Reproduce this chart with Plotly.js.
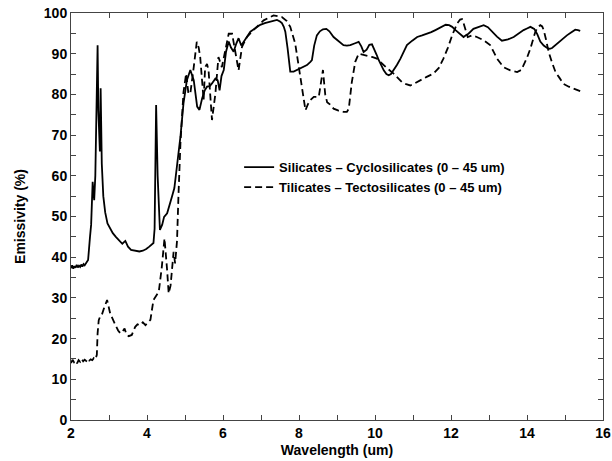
<!DOCTYPE html>
<html>
<head>
<meta charset="utf-8">
<script src="https://cdn.plot.ly/plotly-3.0.1.min.js"></script>
<style>html,body{margin:0;padding:0;background:#fff;}#chart{width:612px;height:461px;}</style>
</head>
<body>
<div id="chart"></div>
<script>
// Series 1: Silicates – Cyclosilicates
var silWavelength = [2.00,2.03,2.06,2.09,2.12,2.15,2.18,2.21,2.24,2.27,2.30,2.33,2.36,2.40,
  2.45,2.50,2.53,2.57,2.61,2.64,2.67,2.70,2.72,2.74,2.76,2.78,2.81,2.85,2.90,2.96,
  3.03,3.10,3.18,3.27,3.35,3.43,3.50,3.58,3.70,3.80,3.89,3.98,4.06,4.12,4.17,4.20,
  4.24,4.28,4.34,4.40,4.45,4.53,4.59,4.66,4.72,4.79,4.88,4.96,5.05,5.14,5.23,5.32,
  5.38,5.45,5.52,5.58,5.65,5.71,5.80,5.86,5.91,5.96,6.02,6.08,6.15,6.21,6.28,6.35,
  6.41,6.48,6.54,6.62,6.72,6.85,6.98,7.10,7.24,7.33,7.42,7.50,7.55,7.60,7.64,7.70,
  7.77,7.86,7.95,8.04,8.12,8.21,8.30,8.34,8.40,8.47,8.55,8.63,8.72,8.80,8.91,9.04,
  9.17,9.26,9.35,9.46,9.57,9.64,9.70,9.78,9.85,9.92,9.98,10.04,10.10,10.17,10.23,10.30,
  10.36,10.42,10.49,10.58,10.67,10.76,10.84,10.98,11.11,11.24,11.37,11.48,11.59,11.72,11.86,11.95,
  12.03,12.12,12.20,12.27,12.33,12.40,12.46,12.59,12.72,12.86,12.97,13.08,13.21,13.34,13.50,13.65,
  13.78,13.91,14.00,14.09,14.19,14.27,14.35,14.44,14.53,14.60,14.66,14.77,14.88,14.96,15.05,15.16,
  15.27,15.34,15.40];
var silEmissivity = [37.3,38.0,37.2,37.8,37.4,38.1,37.5,37.9,37.6,38.2,37.7,38.3,38.0,38.6,
  39.3,45.0,48.0,58.5,54.0,60.0,75.0,92.1,76.0,68.0,66.0,81.5,63.0,55.0,51.0,48.3,
  47.0,45.9,45.0,44.2,43.3,44.0,42.6,41.8,41.6,41.4,41.6,42.0,42.6,43.2,43.5,47.0,
  77.4,60.0,46.7,48.0,49.9,50.8,53.0,55.0,57.0,62.2,69.6,77.8,83.5,86.0,83.5,77.0,
  76.2,79.0,81.0,81.9,82.0,82.7,83.9,83.5,81.0,84.5,86.0,90.5,93.0,91.5,90.5,92.5,
  93.8,92.0,93.0,94.0,95.4,96.3,97.1,97.5,97.9,98.1,98.3,97.9,97.5,96.6,95.4,91.3,
  85.6,85.6,86.0,86.4,86.8,87.2,88.0,88.4,92.0,94.5,95.5,96.0,96.1,95.5,94.1,93.0,
  92.1,92.0,92.1,92.5,92.9,91.8,90.4,91.0,92.2,92.3,91.2,89.8,88.4,87.0,85.9,85.0,
  84.7,85.0,85.9,87.3,88.8,90.5,92.1,93.2,94.1,94.5,94.9,95.3,95.8,96.5,97.1,97.0,
  96.6,95.8,95.2,94.5,94.1,94.6,94.9,96.1,96.6,97.0,96.5,95.4,94.2,93.2,93.5,94.1,
  95.0,95.8,96.2,96.6,96.1,94.8,93.0,92.0,91.4,91.2,91.4,92.3,93.3,94.0,94.5,95.2,
  95.9,95.8,95.6];

// Series 2: Tilicates – Tectosilicates
var tecWavelength = [2.00,2.04,2.08,2.12,2.16,2.20,2.24,2.28,2.32,2.36,2.40,2.44,2.48,2.52,2.56,2.60,2.64,
  2.68,2.70,2.73,2.77,2.81,2.87,2.95,3.03,3.10,3.17,3.24,3.30,3.36,3.41,3.46,3.52,3.60,3.69,3.75,
  3.82,3.89,3.96,4.03,4.09,4.17,4.25,4.31,4.39,4.46,4.53,4.57,4.62,4.66,4.70,4.74,4.79,4.83,4.88,
  4.96,5.03,5.09,5.14,5.23,5.31,5.36,5.40,5.49,5.53,5.58,5.62,5.71,5.80,5.88,5.97,6.06,6.15,6.24,
  6.32,6.41,6.50,6.63,6.80,7.07,7.33,7.55,7.68,7.77,7.90,7.99,8.08,8.17,8.23,8.30,8.39,8.52,8.58,
  8.63,8.69,8.74,8.82,8.91,9.04,9.17,9.26,9.31,9.39,9.48,9.57,9.68,9.79,9.92,10.05,10.18,10.32,
  10.49,10.60,10.71,10.82,10.93,11.06,11.19,11.36,11.54,11.68,11.80,11.92,12.03,12.10,12.16,12.24,
  12.29,12.33,12.38,12.44,12.55,12.68,12.86,13.03,13.12,13.21,13.38,13.56,13.74,13.85,13.91,14.00,
  14.09,14.16,14.22,14.28,14.35,14.40,14.44,14.50,14.57,14.66,14.75,14.86,14.96,15.10,15.23,15.32,15.40];
var tecEmissivity = [14.0,14.8,14.2,14.6,13.9,14.7,14.3,15.0,14.4,14.8,14.5,15.1,14.6,14.9,14.7,15.2,14.9,
  16.0,21.3,24.5,25.5,25.8,27.5,29.5,26.2,24.5,23.3,22.0,21.3,21.8,22.5,21.0,20.6,20.9,22.9,23.5,
  23.3,24.0,23.3,24.0,24.6,29.5,30.5,31.5,37.6,44.6,36.8,31.1,33.0,38.5,41.3,38.5,44.0,55.7,68.0,
  80.5,85.1,80.2,80.2,86.7,92.9,91.5,89.2,78.6,86.7,87.5,85.9,73.7,80.2,89.2,86.7,90.8,94.9,94.9,
  90.8,85.9,91.7,94.1,95.8,98.2,99.4,99.0,98.0,96.6,92.5,86.7,81.0,76.1,77.5,78.6,79.4,79.4,83.0,
  86.0,80.0,78.1,77.5,76.5,76.0,75.7,75.7,76.5,83.0,88.0,90.0,89.8,89.6,89.2,88.8,87.6,86.4,
  85.1,84.0,83.0,82.5,82.2,82.8,83.5,84.3,85.1,86.5,88.8,91.5,94.5,96.0,97.4,98.4,
  98.5,97.5,96.2,94.1,94.5,94.1,93.3,92.1,90.5,88.8,86.7,85.9,85.5,86.0,87.2,89.0,
  91.3,93.5,95.4,96.5,97.0,96.7,95.8,93.5,90.4,87.8,85.5,84.0,82.6,81.9,81.4,81.0,80.8];

var seriesNames = ["Silicates \u2013 Cyclosilicates (0 \u2013 45 um)", "Tilicates \u2013 Tectosilicates (0 \u2013 45 um)"];
var xTickVals = [2,4,6,8,10,12,14,16];
var yTickVals = [0,10,20,30,40,50,60,70,80,90,100];

var FONT = "'Liberation Sans', Arial, Helvetica, sans-serif";

var traces = [
  {x: silWavelength, y: silEmissivity, type: 'scatter', mode: 'lines', name: seriesNames[0],
   line: {color: '#000', width: 1.8, dash: 'solid'}},
  {x: tecWavelength, y: tecEmissivity, type: 'scatter', mode: 'lines', name: seriesNames[1],
   line: {color: '#000', width: 1.8, dash: '7px,4px'}}
];

var axisCommon = {
  showgrid: false, zeroline: false, showline: true, linecolor: '#444', linewidth: 1,
  mirror: 'allticks', ticks: 'inside', ticklen: 5, tickwidth: 1, tickcolor: '#444',
  tickfont: {family: FONT, size: 14, color: '#000', weight: 'bold'}
};

var layout = {
  width: 612, height: 461,
  margin: {l: 71, r: 9, t: 13, b: 41},
  paper_bgcolor: '#fff', plot_bgcolor: '#fff',
  showlegend: true,
  legend: {x: 0.316, y: 0.658, xanchor: 'left', yanchor: 'top', bgcolor: 'rgba(0,0,0,0)',
    font: {family: FONT, size: 13, color: '#000', weight: 'bold'}, tracegroupgap: 0},
  xaxis: Object.assign({}, axisCommon, {
    range: [2, 16], tickmode: 'array', tickvals: xTickVals,
    minor: {dtick: 1, ticks: 'inside', ticklen: 5, tickcolor: '#444'},
    title: {text: 'Wavelength (um)', font: {family: FONT, size: 14, color: '#000', weight: 'bold'}, standoff: 5}
  }),
  yaxis: Object.assign({}, axisCommon, {
    range: [0, 100], tickmode: 'array', tickvals: yTickVals,
    minor: {dtick: 5, ticks: 'inside', ticklen: 5, tickcolor: '#444'},
    title: {text: 'Emissivity (%)', font: {family: FONT, size: 14, color: '#000', weight: 'bold'}, standoff: 14}
  })
};

Plotly.newPlot('chart', traces, layout, {displayModeBar: false, staticPlot: true});
</script>
</body>
</html>
